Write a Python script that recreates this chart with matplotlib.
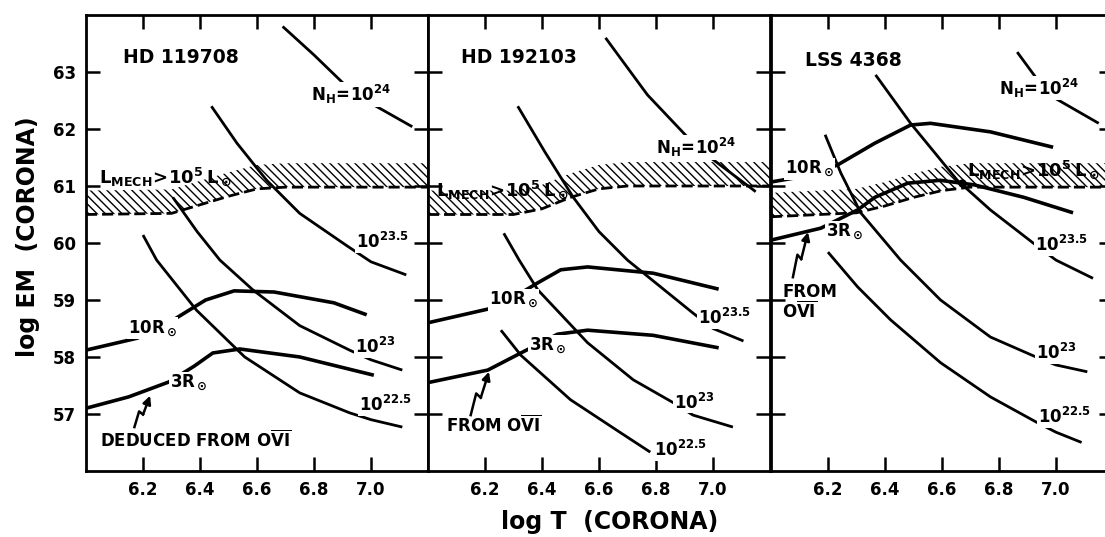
import numpy as np
import matplotlib
matplotlib.use('Agg')
import matplotlib.pyplot as plt

plt.rcParams['font.family'] = ['DejaVu Sans']
plt.rcParams['font.weight'] = 'bold'
plt.rcParams['mathtext.default'] = 'bf'
plt.rcParams['hatch.linewidth'] = 1.0

# axis ticks
T_TICKS = [6.2, 6.4, 6.6, 6.8, 7.0]
T_LABELS = ['6.2', '6.4', '6.6', '6.8', '7.0']
EM_TICKS = [57, 58, 59, 60, 61, 62, 63]
EM_LABELS = ['57', '58', '59', '60', '61', '62', '63']

stars = ['HD 119708', 'HD 192103', 'LSS 4368']

# ---- HD 119708 ----
nh24_1_T = [6.69, 6.80, 6.92, 7.00, 7.145]
nh24_1_EM = [63.8, 63.3, 62.72, 62.45, 62.04]
nh235_1_T = [6.44, 6.53, 6.634, 6.75, 6.913, 7.0, 7.124]
nh235_1_EM = [62.4, 61.75, 61.1, 60.52, 59.96, 59.67, 59.44]
nh23_1_T = [6.305, 6.39, 6.47, 6.585, 6.75, 6.925, 7.0, 7.11]
nh23_1_EM = [60.8, 60.2, 59.7, 59.18, 58.55, 58.12, 57.95, 57.77]
nh225_1_T = [6.2, 6.248, 6.388, 6.557, 6.75, 6.925, 7.0, 7.11]
nh225_1_EM = [60.14, 59.7, 58.82, 58.0, 57.37, 57.02, 56.9, 56.77]
r10_1_T = [6.0, 6.18, 6.29, 6.42, 6.52, 6.66, 6.87, 6.985]
r10_1_EM = [58.12, 58.33, 58.6, 59.0, 59.16, 59.14, 58.95, 58.74]
r3_1_T = [6.0, 6.15, 6.29, 6.38, 6.445, 6.54, 6.75, 7.01]
r3_1_EM = [57.1, 57.3, 57.56, 57.84, 58.07, 58.14, 58.0, 57.68]

# ---- HD 192103 ----
nh24_2_T = [6.623, 6.77, 6.91, 6.98, 7.15]
nh24_2_EM = [63.6, 62.6, 61.86, 61.54, 60.9]
nh235_2_T = [6.315, 6.41, 6.51, 6.60, 6.70, 6.93, 7.0, 7.107]
nh235_2_EM = [62.4, 61.6, 60.8, 60.2, 59.7, 58.77, 58.5, 58.28]
nh23_2_T = [6.266, 6.32, 6.385, 6.56, 6.72, 6.86, 6.93, 7.07]
nh23_2_EM = [60.17, 59.7, 59.18, 58.25, 57.6, 57.2, 56.98, 56.77]
nh225_2_T = [6.256, 6.326, 6.5, 6.676, 6.78]
nh225_2_EM = [58.47, 58.03, 57.25, 56.67, 56.33]
r10_2_T = [6.0, 6.245, 6.385, 6.466, 6.56, 6.79, 7.02]
r10_2_EM = [58.6, 58.88, 59.3, 59.53, 59.58, 59.47, 59.19]
r3_2_T = [6.0, 6.21, 6.326, 6.455, 6.56, 6.79, 7.02]
r3_2_EM = [57.55, 57.77, 58.07, 58.4, 58.47, 58.38, 58.16]

# ---- LSS 4368 ----
nh24_3_T = [6.864, 6.93, 6.99, 7.15]
nh24_3_EM = [63.35, 62.9, 62.56, 62.1]
nh235_3_T = [6.367, 6.49, 6.654, 6.77, 6.92, 7.0, 7.13]
nh235_3_EM = [62.95, 62.1, 61.1, 60.58, 60.0, 59.7, 59.38]
nh23_3_T = [6.19, 6.245, 6.315, 6.455, 6.595, 6.77, 6.93, 7.0, 7.11]
nh23_3_EM = [61.9, 61.23, 60.53, 59.7, 59.0, 58.35, 58.0, 57.86, 57.74]
nh225_3_T = [6.2, 6.304, 6.42, 6.595, 6.77, 6.93, 7.0, 7.09]
nh225_3_EM = [59.84, 59.23, 58.65, 57.9, 57.3, 56.86, 56.68, 56.5]
r10_3_T = [6.0, 6.14, 6.234, 6.364, 6.49, 6.56, 6.77, 6.99]
r10_3_EM = [61.07, 61.19, 61.37, 61.75, 62.07, 62.1, 61.95, 61.68]
r3_3_T = [6.0, 6.175, 6.304, 6.364, 6.48, 6.594, 6.713, 6.888, 7.06]
r3_3_EM = [60.05, 60.26, 60.58, 60.8, 61.05, 61.1, 61.02, 60.8, 60.53]

# L_mech > 1e5 Lsun limit (lower edge of the hatched band)
band_T = [6.0, 6.3, 6.4, 6.5, 6.6, 6.7, 7.2]
band_1 = [60.5, 60.52, 60.67, 60.82, 60.95, 60.98, 60.98]
band_2 = [60.5, 60.5, 60.6, 60.8, 60.95, 61.0, 61.0]
band_3 = [60.46, 60.53, 60.65, 60.8, 60.92, 60.98, 60.98]
band_width = 0.42

fig = plt.figure(figsize=(11.05, 5.37), dpi=100)
lefts = [0.0778, 0.3873, 0.6977]
axes = [fig.add_axes([l, 0.123, 0.3095, 0.849]) for l in lefts]

def style(ax, first):
    ax.set_xlim(6.0, 7.2)
    ax.set_ylim(56, 64)
    ax.set_xticks(T_TICKS)
    ax.set_xticklabels(T_LABELS)
    ax.set_yticks(EM_TICKS)
    ax.set_yticklabels(EM_LABELS)
    ax.tick_params(direction='in', length=10, width=1.8, top=True, right=True,
                   labelsize=12, pad=7)
    if not first:
        ax.tick_params(labelleft=False)
    for s in ax.spines.values():
        s.set_linewidth(2)

lab = dict(ha='center', va='center', fontsize=12, zorder=5,
           bbox=dict(boxstyle='square,pad=0.05', fc='white', ec='none'))

def squiggle(ax, x0, y0, x1, y1):
    dx, dy = x1 - x0, y1 - y0
    px = [x0, x0 + 0.3 * dx, x0 + 0.55 * dx]
    py = [y0, y0 + 0.5 * dy, y0 + 0.4 * dy]
    ax.plot(px, py, color='k', lw=1.8)
    ax.annotate('', xy=(x1, y1), xytext=(px[-1], py[-1]),
                arrowprops=dict(arrowstyle='-|>', color='k', lw=1.8,
                                mutation_scale=12, shrinkA=0, shrinkB=0))

panels = [
    (nh24_1_T, nh24_1_EM, nh235_1_T, nh235_1_EM, nh23_1_T, nh23_1_EM,
     nh225_1_T, nh225_1_EM, r10_1_T, r10_1_EM, r3_1_T, r3_1_EM, band_1),
    (nh24_2_T, nh24_2_EM, nh235_2_T, nh235_2_EM, nh23_2_T, nh23_2_EM,
     nh225_2_T, nh225_2_EM, r10_2_T, r10_2_EM, r3_2_T, r3_2_EM, band_2),
    (nh24_3_T, nh24_3_EM, nh235_3_T, nh235_3_EM, nh23_3_T, nh23_3_EM,
     nh225_3_T, nh225_3_EM, r10_3_T, r10_3_EM, r3_3_T, r3_3_EM, band_3),
]

for i, (ax, p) in enumerate(zip(axes, panels)):
    style(ax, i == 0)
    for k in range(4):
        ax.plot(p[2 * k], p[2 * k + 1], color='k', lw=2.0, solid_capstyle='butt', zorder=3)
    for k in range(4, 6):
        ax.plot(p[2 * k], p[2 * k + 1], color='k', lw=2.6, solid_capstyle='butt', zorder=3)
    low = np.array(p[12])
    ax.fill_between(band_T, low, low + band_width, facecolor='none',
                    edgecolor='black', hatch='\\' * 4, linewidth=0, zorder=1)
    ax.plot(band_T, low, color='k', lw=2.0, dashes=(4, 1.8), zorder=2)

# panel labels
ax1, ax2, ax3 = axes
tl = dict(ha='left', va='center', fontsize=13.5)
ax1.text(6.13, 63.25, stars[0], **tl)
ax2.text(6.115, 63.25, stars[1], **tl)
ax3.text(6.12, 63.2, stars[2], **tl)

lmech = r'$L_{MECH}\!>\!10^5\,L_\odot$'
lm = dict(ha='center', va='center', fontsize=13, zorder=6)

ax1.text(6.93, 62.6, r'$N_H\!=\!10^{24}$', **lab)
ax1.text(7.04, 60.02, r'$10^{23.5}$', **lab)
ax1.text(7.015, 58.18, r'$10^{23}$', **lab)
ax1.text(7.05, 57.16, r'$10^{22.5}$', **lab)
ax1.text(6.235, 58.5, r'$10R_\odot$', **lab)
ax1.text(6.36, 57.55, r'$3R_\odot$', **lab)
ax1.text(6.277, 61.16, lmech, **lm)
ax1.text(6.05, 56.54, r'DEDUCED FROM O$\overline{VI}$', ha='left', va='center', fontsize=12)
squiggle(ax1, 6.17, 56.77, 6.225, 57.32)

ax2.text(6.94, 61.67, r'$N_H\!=\!10^{24}$', **lab)
ax2.text(7.04, 58.68, r'$10^{23.5}$', **lab)
ax2.text(6.935, 57.2, r'$10^{23}$', **lab)
ax2.text(6.886, 56.37, r'$10^{22.5}$', **lab)
ax2.text(6.3, 59.0, r'$10R_\odot$', **lab)
ax2.text(6.42, 58.2, r'$3R_\odot$', **lab)
ax2.text(6.26, 60.93, lmech, **lm)
ax2.text(6.063, 56.8, r'FROM O$\overline{VI}$', ha='left', va='center', fontsize=12)
squiggle(ax2, 6.15, 56.98, 6.214, 57.74)

ax3.text(6.94, 62.72, r'$N_H\!=\!10^{24}$', **lab)
ax3.text(7.02, 59.96, r'$10^{23.5}$', **lab)
ax3.text(7.0, 58.07, r'$10^{23}$', **lab)
ax3.text(7.03, 56.95, r'$10^{22.5}$', **lab)
ax3.text(6.136, 61.3, r'$10R_\odot$', **lab)
ax3.text(6.26, 60.2, r'$3R_\odot$', **lab)
ax3.text(6.92, 61.28, lmech, **lm)
ax3.text(6.04, 58.96, 'FROM\n' + r'O$\overline{VI}$', ha='left', va='center',
         fontsize=12, linespacing=1.0)
squiggle(ax3, 6.077, 59.4, 6.13, 60.19)
ax3.plot([6.67], [61.05], 'o', color='k', ms=5, zorder=4)

fig.text(0.025, 0.559, 'log EM  (CORONA)', rotation=90, ha='center', va='center', fontsize=17)
fig.text(0.552, 0.028, 'log T  (CORONA)', ha='center', va='center', fontsize=17)

fig.savefig('out.png', dpi=100)
